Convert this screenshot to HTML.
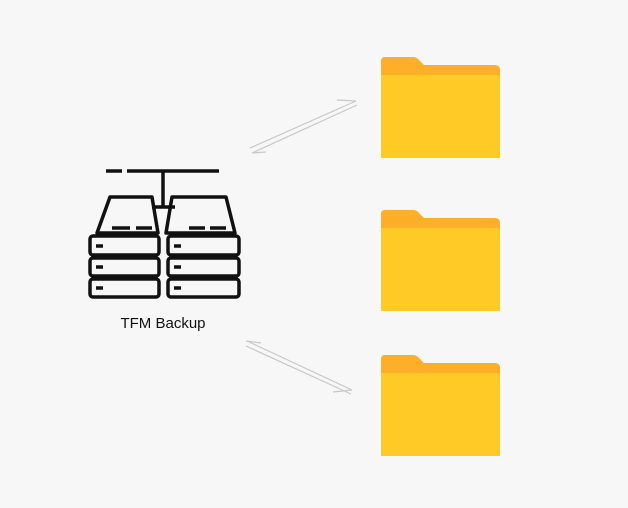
<!DOCTYPE html><html><head><style>body{margin:0;background:#f7f7f7;width:628px;height:503px;overflow:hidden}</style></head><body>
<svg width="628" height="503" xmlns="http://www.w3.org/2000/svg">
<rect width="628" height="503" fill="#f7f7f7"/>
<g fill="none" stroke="#111" stroke-width="3.5" stroke-linejoin="round">
<path d="M106 171H122M127 171H219"/>
<path d="M163 171V207M152 207H175"/>
<path d="M110 197H152L158 233H97Z"/>
<path d="M172 197H226L235 233H166Z"/>
<rect x="90" y="236" width="69" height="19" rx="3"/>
<rect x="90" y="258" width="69" height="18" rx="3"/>
<rect x="90" y="279" width="69" height="18" rx="3"/>
<rect x="168" y="236" width="71" height="19" rx="3"/>
<rect x="168" y="258" width="71" height="18" rx="3"/>
<rect x="168" y="279" width="71" height="18" rx="3"/>
<path d="M112 228H130M136 228H152M189 228H205M210 228H226"/>
<path d="M96 246H103M96 267H103M96 288H103M174 246H181M174 267H181M174 288H181"/>
</g>
<text x="163" y="328" font-family="Liberation Sans, sans-serif" font-size="15" fill="#111" text-anchor="middle">TFM Backup</text>
<g fill="none" stroke="#c8c8c8" stroke-width="1.2">
<path d="M250 148L356 101M337 100L356 101"/>
<path d="M252 153L357 105M252 153L266 152"/>
<path d="M247 341L352 390M333 392L352 390"/>
<path d="M246 346L351 394M246 341L261 343"/>
</g>
<g id="f">
<path d="M385 57H413Q416 57 418 59L424 65H495Q500 65 500 70V158H381V61Q381 57 385 57Z" fill="#fdaf29"/>
<path d="M381 75H497Q500 75 500 78V158H381Z" fill="#ffc926"/>
</g>
<use href="#f" y="153"/>
<use href="#f" y="298"/>
</svg>
</body></html>
